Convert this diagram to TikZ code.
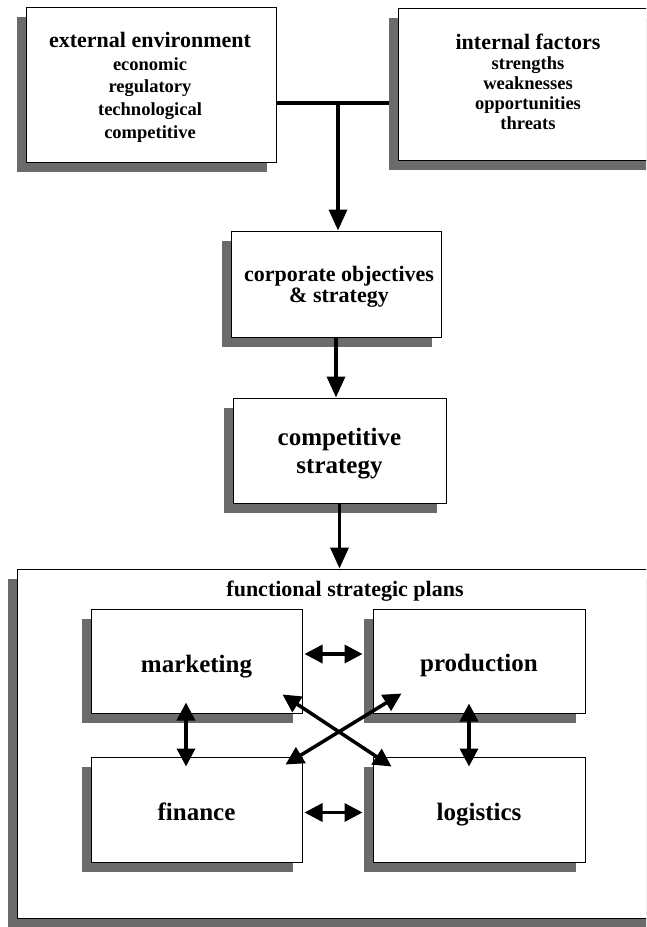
\documentclass[tikz,border=0pt]{standalone}
\usepackage{fontspec}
\setmainfont{Liberation Serif}
\usetikzlibrary{arrows.meta,shadows}
\definecolor{shade}{gray}{0.42}
\tikzset{
  box/.style={draw=black, line width=1pt, fill=white, inner sep=0pt,
    general shadow={fill=shade, shadow xshift=-9pt, shadow yshift=-10pt}},
  label text/.style={align=center, inner sep=0pt, anchor=base},
  headfont/.style={font=\fontsize{22}{21}\selectfont\bfseries},
  bigfont/.style={font=\fontsize{25}{28.3}\selectfont\bfseries},
  conn/.style={line width=3.5pt},
  onearrow/.style={line width=3.5pt, -{Triangle[length=21pt,width=18pt]}},
  twoarrow/.style={line width=3.5pt,
    {Triangle[length=18pt,width=18pt]}-{Triangle[length=18pt,width=18pt]}},
}
\begin{document}
\begin{tikzpicture}[x=1pt,y=-1pt]
\useasboundingbox (0,0) rectangle (646,927);
\clip (0,0) rectangle (646,927);

% environment and internal analysis (text anchored at the last line's baseline)
\node[box, minimum width=250pt, minimum height=155pt] (ext) at (151,84.5) {};
\node[label text, font=\fontsize{18.5}{22.7}\selectfont\bfseries] (extT) at (150,138.3)
  {{\fontsize{22}{22}\selectfont external environment}\\economic\\regulatory\\technological\\competitive};
\node[box, minimum width=260pt, minimum height=152pt] (int) at (528,84) {};
\node[label text, font=\fontsize{18.5}{20}\selectfont\bfseries] (intT) at (528,129.3)
  {{\fontsize{22}{22}\selectfont internal factors}\\strengths\\weaknesses\\opportunities\\threats};

% strategy chain
\node[box, minimum width=210pt, minimum height=106pt] (corp) at (336,284) {};
\node[label text, headfont] (corpT) at (339,302) {corporate objectives\\\& strategy};
\node[box, minimum width=213pt, minimum height=105pt] (comp) at (339.5,450.5) {};
\node[label text, bigfont] (compT) at (339.5,473.3) {competitive\\strategy};

% functional plans container
\node[box, minimum width=643pt, minimum height=349pt] (plans) at (338.5,743.5) {};
\node[label text, headfont] (plansT) at (345,596.7) {functional strategic plans};

\node[box, minimum width=211pt, minimum height=104pt] (mkt) at (196.5,661) {};
\node[label text, bigfont] (mktT) at (196.5,672.5) {marketing};
\node[box, minimum width=212pt, minimum height=104pt] (prod) at (479,661) {};
\node[label text, bigfont] (prodT) at (479,671) {production};
\node[box, minimum width=211pt, minimum height=105pt] (fin) at (196.5,809.5) {};
\node[label text, bigfont] (finT) at (196.5,820) {finance};
\node[box, minimum width=212pt, minimum height=105pt] (log) at (479,809.5) {};
\node[label text, bigfont] (logT) at (479,820) {logistics};

% connectors
\coordinate (j) at (338,103);
\draw[conn] (ext.east |- j) -- ([xshift=-9pt]int.west |- j);
\draw[onearrow] (j) -- (j |- corp.north);
\draw[onearrow] (corp.south) -- (corp.south |- comp.north);
\draw[onearrow] (comp.south) -- (comp.south |- plans.north);

\draw[twoarrow] ([xshift=2pt,yshift=7pt]mkt.east) -- ([xshift=-10pt,yshift=7pt]prod.west);
\draw[twoarrow] ([xshift=2pt,yshift=-3pt]fin.east) -- ([xshift=-10pt,yshift=-3pt]log.west);
\draw[twoarrow] ([xshift=-10.5pt,yshift=11pt]mkt.south) -- ([xshift=-10.5pt,yshift=-10pt]fin.north);
\draw[twoarrow] ([xshift=-10pt,yshift=10pt]prod.south) -- ([xshift=-10pt,yshift=-10pt]log.north);
\draw[twoarrow] ([xshift=-20pt,yshift=19pt]mkt.south east) -- ([xshift=19pt,yshift=-10pt]log.north west);
\draw[twoarrow] ([xshift=29pt,yshift=20pt]prod.south west) -- ([xshift=-17pt,yshift=-8pt]fin.north east);
\end{tikzpicture}
\end{document}
